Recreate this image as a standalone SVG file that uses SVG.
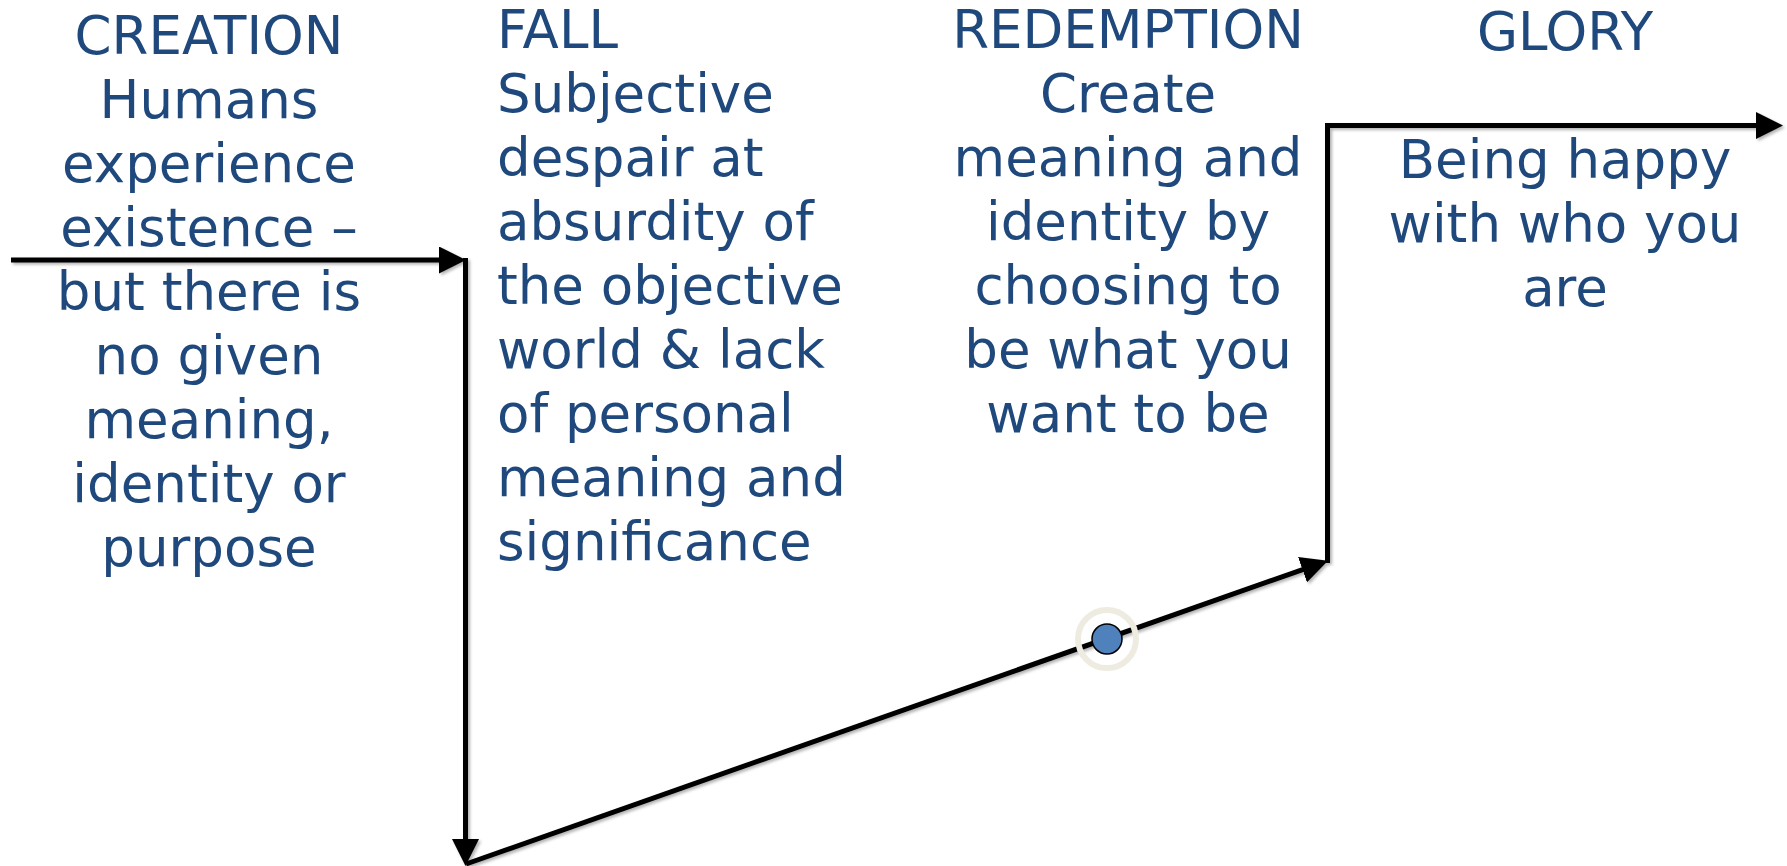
<svg xmlns="http://www.w3.org/2000/svg" width="1787" height="866" viewBox="0 0 1787 866">
<style>
  .t { font-family: "DejaVu Sans", Verdana, sans-serif; font-size: 53px; fill: #1F497D; }
  .c { text-anchor: middle; }
  .conn { fill: none; stroke: #000; stroke-width: 5; }
</style>
<defs>
  <marker id="ah" markerUnits="userSpaceOnUse" markerWidth="27" markerHeight="27" refX="16" refY="13.5" orient="auto" viewBox="0 0 27 27">
    <path d="M0,0 L27,13.5 L0,27 z" fill="#000"/>
  </marker>
  <filter id="sh" x="-5%" y="-5%" width="110%" height="110%">
    <feDropShadow dx="2" dy="2" stdDeviation="1.5" flood-color="#000" flood-opacity="0.3"/>
  </filter>
</defs>
<rect width="1787" height="866" fill="#fff"/>
<g id="connectors" filter="url(#sh)">
  <path class="conn" d="M11,260 H455" marker-end="url(#ah)"/>
  <path class="conn" d="M465.5,258 V855" marker-end="url(#ah)"/>
  <path class="conn" d="M466,864 L1317.6,564.3" marker-end="url(#ah)"/>
  <path class="conn" d="M1327.5,563 V125.5 H1772" marker-end="url(#ah)"/>
</g>
<g id="marker-dot">
  <circle cx="1107" cy="639" r="29" fill="none" stroke="#EEECE1" stroke-width="6"/>
  <circle cx="1107" cy="639" r="15" fill="#4F81BD" stroke="#000" stroke-width="1.5"/>
</g>
<g id="creation">
  <text class="t c" x="209" y="54">CREATION</text>
  <text class="t c" x="209" y="118">Humans</text>
  <text class="t c" x="209" y="182">experience</text>
  <text class="t c" x="209" y="246">existence –</text>
  <text class="t c" x="209" y="310">but there is</text>
  <text class="t c" x="209" y="374">no given</text>
  <text class="t c" x="209" y="438">meaning,</text>
  <text class="t c" x="209" y="502">identity or</text>
  <text class="t c" x="209" y="566">purpose</text>
</g>
<g id="fall">
  <text class="t" x="497" y="48">FALL</text>
  <text class="t" x="497" y="112">Subjective</text>
  <text class="t" x="497" y="176">despair at</text>
  <text class="t" x="497" y="240">absurdity of</text>
  <text class="t" x="497" y="304">the objective</text>
  <text class="t" x="497" y="368">world &amp; lack</text>
  <text class="t" x="497" y="432">of personal</text>
  <text class="t" x="497" y="496">meaning and</text>
  <text class="t" x="497" y="560">significance</text>
</g>
<g id="redemption">
  <text class="t c" x="1128" y="48">REDEMPTION</text>
  <text class="t c" x="1128" y="112">Create</text>
  <text class="t c" x="1128" y="176">meaning and</text>
  <text class="t c" x="1128" y="240">identity by</text>
  <text class="t c" x="1128" y="304">choosing to</text>
  <text class="t c" x="1128" y="368">be what you</text>
  <text class="t c" x="1128" y="432">want to be</text>
</g>
<g id="glory">
  <text class="t c" x="1565" y="50">GLORY</text>
  <text class="t c" x="1565" y="178">Being happy</text>
  <text class="t c" x="1565" y="242">with who you</text>
  <text class="t c" x="1565" y="306">are</text>
</g>
</svg>
